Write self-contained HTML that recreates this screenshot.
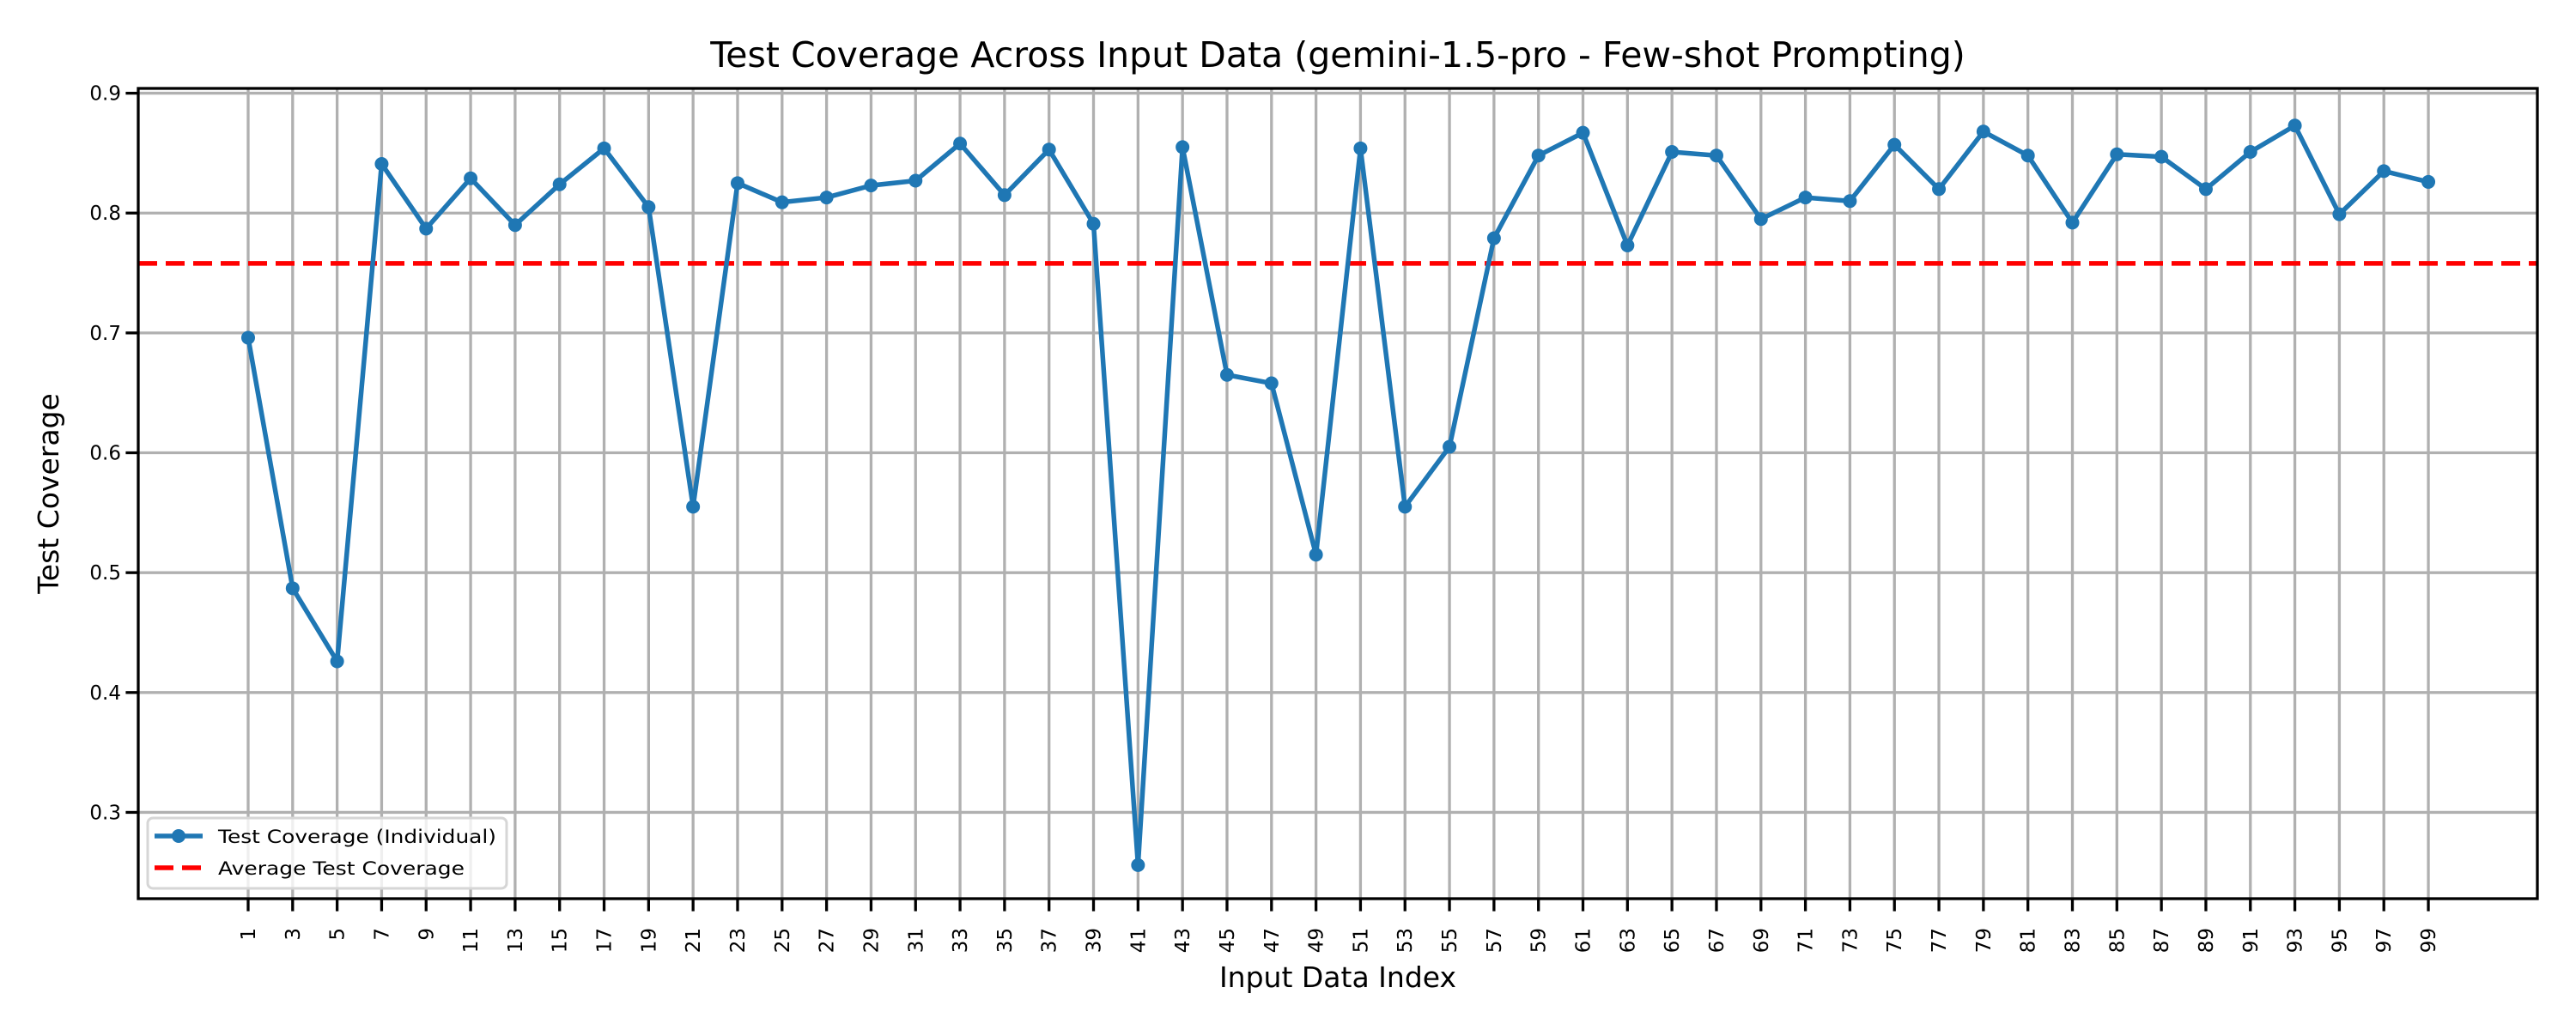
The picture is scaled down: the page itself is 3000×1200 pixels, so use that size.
<!DOCTYPE html>
<html><head><meta charset="utf-8"><style>
html,body{margin:0;padding:0;background:#fff;}
svg{display:block;font-family:"DejaVu Sans","Liberation Sans",sans-serif;}
</style></head><body>
<svg id="chart" width="3000" height="1200" viewBox="0 0 3000 1200" xmlns="http://www.w3.org/2000/svg">
<rect x="0" y="0" width="3000" height="1200" fill="#fff"/>
<g id="grid"></g>
<g id="series"></g>
<g id="axes"></g>
<text x="1558" y="78" font-size="41" text-anchor="middle">Test Coverage Across Input Data (gemini-1.5-pro - Few-shot Prompting)</text>
<text x="1558" y="1150" font-size="33" text-anchor="middle">Input Data Index</text>
<text x="0" y="0" font-size="33" text-anchor="middle" transform="translate(68,575) rotate(-90)">Test Coverage</text>
<g>
<rect x="172" y="953" width="418" height="82" rx="6" fill="#fff" fill-opacity="0.8" stroke="#d6d6d6" stroke-width="3"/>
<g>
<line x1="180" y1="974" x2="236" y2="974" stroke="#1f77b4" stroke-width="5.5"/>
<circle cx="208" cy="974" r="8" fill="#1f77b4"/>
<text x="254" y="982" font-size="21" textLength="324" lengthAdjust="spacingAndGlyphs">Test Coverage (Individual)</text>
</g>
<g>
<line x1="180" y1="1011" x2="236" y2="1011" stroke="#ff0000" stroke-width="5.5" stroke-dasharray="22,10"/>
<text x="254" y="1019" font-size="21" textLength="287" lengthAdjust="spacingAndGlyphs">Average Test Coverage</text>
</g>
</g>
</svg>
<script>
const indices = [1,3,5,7,9,11,13,15,17,19,21,23,25,27,29,31,33,35,37,39,41,43,45,47,49,51,53,55,57,59,61,63,65,67,69,71,73,75,77,79,81,83,85,87,89,91,93,95,97,99];
const coverage = [0.696,0.487,0.426,0.841,0.787,0.829,0.790,0.824,0.854,0.805,0.555,0.825,0.809,0.813,0.823,0.827,0.858,0.815,0.853,0.791,0.256,0.855,0.665,0.658,0.515,0.854,0.555,0.605,0.779,0.848,0.867,0.773,0.851,0.848,0.795,0.813,0.810,0.857,0.820,0.868,0.848,0.792,0.849,0.847,0.820,0.851,0.873,0.799,0.835,0.826];
const averageCoverage = 0.758;
const yTicks = [0.3,0.4,0.5,0.6,0.7,0.8,0.9];
const yTickLabels = ["0.3","0.4","0.5","0.6","0.7","0.8","0.9"];

const L=161,R=2955,T=103,B=1047;
const xMin=-3.94,xMax=103.9,yMin=0.228,yMax=0.904;
function xs(v){return L+(v-xMin)/(xMax-xMin)*(R-L);}
function ys(v){return B-(v-yMin)/(yMax-yMin)*(B-T);}
const NS="http://www.w3.org/2000/svg";
function mk(tag,attrs,parent){const e=document.createElementNS(NS,tag);for(const k in attrs)e.setAttribute(k,attrs[k]);parent.appendChild(e);return e;}
const grid=document.getElementById('grid'),series=document.getElementById('series'),axes=document.getElementById('axes');

yTicks.forEach((t,i)=>{
  const y=ys(t);
  const g=mk('line',{x1:L,x2:R,y1:y,y2:y,stroke:'#b0b0b0','stroke-width':3.3},grid);
  
  
  const tk=mk('line',{x1:L-14.6,x2:L,y1:y,y2:y,stroke:'#000','stroke-width':3.3},axes);
  
  
  const tx=mk('text',{x:L-20,y:y+8,'font-size':23,'text-anchor':'end'},axes);
  tx.textContent=yTickLabels[i];
  
  
});
indices.forEach(v=>{
  const x=xs(v);
  const g=mk('line',{x1:x,x2:x,y1:T,y2:B,stroke:'#b0b0b0','stroke-width':3.3},grid);
  
  
  const tk=mk('line',{x1:x,x2:x,y1:B,y2:B+14.6,stroke:'#000','stroke-width':3.3},axes);
  
  
  const tx=mk('text',{x:0,y:0,'font-size':23,'text-anchor':'end',transform:`translate(${x+8},${B+34}) rotate(-90)`},axes);
  tx.textContent=String(v);
  
  
});
const avg=mk('line',{x1:L,x2:R,y1:ys(averageCoverage),y2:ys(averageCoverage),stroke:'#ff0000','stroke-width':5.5,'stroke-dasharray':'22,10'},series);


const pts=indices.map((v,i)=>xs(v)+','+ys(coverage[i])).join(' ');
const pl=mk('polyline',{points:pts,fill:'none',stroke:'#1f77b4','stroke-width':5.5,'stroke-linejoin':'round'},series);


indices.forEach((v,i)=>{
  const c=mk('circle',{cx:xs(v),cy:ys(coverage[i]),r:8,fill:'#1f77b4'},series);
  
  
});
const sp=mk('rect',{x:L,y:T,width:R-L,height:B-T,fill:'none',stroke:'#000','stroke-width':3.3},axes);


</script>
</body></html>
